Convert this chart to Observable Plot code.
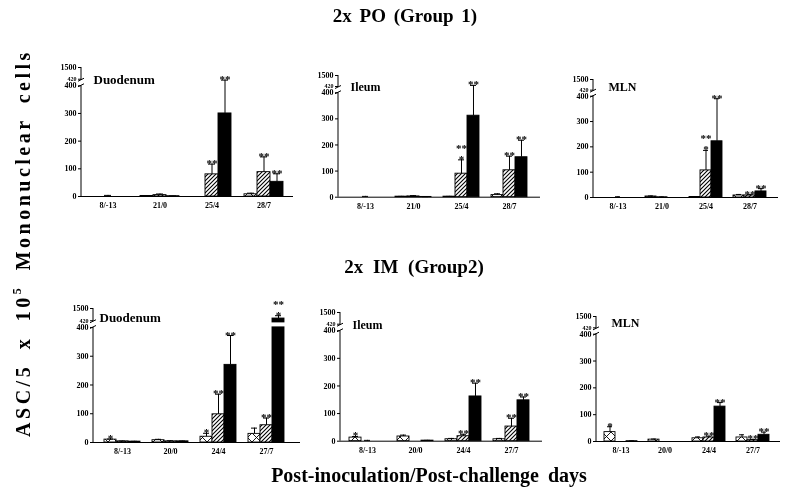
<!DOCTYPE html>
<html><head><meta charset="utf-8">
<script src="https://cdn.jsdelivr.net/npm/d3@7"></script>
<script src="https://cdn.jsdelivr.net/npm/@observablehq/plot@0.6"></script>
<style>
body{margin:0;background:#fff;}
#wrap{position:relative;width:800px;height:495px;overflow:hidden;background:#fff;font-family:"Liberation Serif","Times New Roman",serif;font-weight:bold;color:#000;filter:grayscale(100%);-webkit-font-smoothing:antialiased;}
.abs{position:absolute;white-space:nowrap;line-height:1;}
.panel{position:absolute;}
</style></head><body>
<div id="wrap">
<svg width="0" height="0" style="position:absolute;left:0;top:0">
<defs>
<pattern id="hatch" patternUnits="userSpaceOnUse" width="4" height="4"><rect width="4" height="4" fill="white"/><path d="M-1,1 L1,-1 M0,4 L4,0 M3,5 L5,3" stroke="black" stroke-width="1.1"/></pattern>
<pattern id="cross" patternUnits="userSpaceOnUse" width="9" height="9"><rect width="9" height="9" fill="white"/><path d="M0,0 L9,9 M9,0 L0,9" stroke="black" stroke-width="0.9"/></pattern>
</defs></svg>
<div class="abs" style="left:305px;width:200px;top:6px;text-align:center;font-size:19px;word-spacing:3px">2x PO (Group 1)</div>
<div class="abs" style="left:314px;width:200px;top:257px;text-align:center;font-size:19px;word-spacing:5px">2x IM (Group2)</div>
<div class="abs" style="left:229px;width:400px;top:465px;text-align:center;font-size:20px;word-spacing:4px">Post-inoculation/Post-challenge days</div>
<div class="abs" style="left:22px;top:243px;font-size:20px;letter-spacing:3.5px;word-spacing:6px;transform:translate(-50%,-50%) rotate(-90deg)">ASC/5 x 10<span style="font-size:12px;vertical-align:9px">5</span> Mononuclear cells</div>
</div>
<script>
// ---- data ----
const series = ["white", "hatched", "black"];
const daysPO = ["8/-13", "21/0", "25/4", "28/7"];
const daysIM = ["8/-13", "20/0", "24/4", "27/7"];
const yTicks = [0, 100, 200, 300, 400, 1500];
const yBreakTick = [420];

// values listed day by day: [white, hatched, black] per day
const poDuodenumMean = [0, 0, 0,   2, 5, 1,   0, 80, 300,   8, 88, 53];
const poDuodenumErr  = [0, 4, 0,   3, 9, 2,   0, 117, 430,  12, 143, 82];
const poDuodenumSig  = ["", "", "",  "", "", "",  "", "**", "**",  "", "**", "**"];

const poIleumMean = [0, 0, 0,   2, 3, 1,   2, 90, 312,   8, 103, 153];
const poIleumErr  = [0, 3, 0,   3, 6, 2,   3, 143, 608,  13, 157, 218];
const poIleumSig  = ["", "", "",  "", "", "",  "", "**\n*", "**",  "", "**", "**"];

const poMlnMean = [0, 0, 0,   4, 1, 0,   2, 107, 222,   8, 8, 24];
const poMlnErr  = [0, 3, 0,   6, 2, 0,   3, 186, 390,   12, 11, 35];
const poMlnSig  = ["", "", "",  "", "", "",  "", "**\n*", "**",  "", "**", "**"];

const imDuodenumMean = [10, 4, 3,   8, 4, 4,   20, 98, 270,   30, 60, 680];
const imDuodenumErr  = [12, 5, 4,   11, 6, 5,  32, 168, 372,  50, 85, 913];
const imDuodenumSig  = ["*", "", "",  "", "", "",  "*", "**", "**",  "", "**", "**\n*"];

const imIleumMean = [13, 0, 0,   17, 0, 2,   7, 18, 162,   7, 53, 148];
const imIleumErr  = [17, 3, 0,   22, 0, 3,   10, 25, 210,  10, 83, 160];
const imIleumSig  = ["*", "", "",  "", "", "",  "", "**", "**",  "", "**", "**"];

const imMlnMean = [35, 0, 1,   7, 0, 0,   12, 15, 130,   15, 5, 25];
const imMlnErr  = [55, 0, 2,   9, 0, 0,   17, 20, 145,   25, 8, 35];
const imMlnSig  = ["*", "", "",  "", "", "",  "", "**", "**",  "", "**", "**"];

// ---- broken y axis ----
const BREAK_LO = 400, BREAK_HI = 420, Y_MAX = 1500, COMPRESS = 46 / 1080;
const f = v => v <= BREAK_HI ? v : BREAK_HI + (v - BREAK_HI) * COMPRESS;

const panels = [
  {name: "Duodenum", days: daysPO, mean: poDuodenumMean, err: poDuodenumErr, sig: poDuodenumSig, axisX: 81, right: 293, y0: 196, yTop: 67, labelAt: 420, dx: 12, fs: 13},
  {name: "Ileum", days: daysPO, mean: poIleumMean, err: poIleumErr, sig: poIleumSig, axisX: 338, right: 540, y0: 196.7, yTop: 75, labelAt: 420, dx: 12, fs: 12},
  {name: "MLN", days: daysPO, mean: poMlnMean, err: poMlnErr, sig: poMlnSig, axisX: 593, right: 778, y0: 197, yTop: 79, labelAt: 800, dx: 15, fs: 12},
  {name: "Duodenum", days: daysIM, mean: imDuodenumMean, err: imDuodenumErr, sig: imDuodenumSig, axisX: 93, right: 300, y0: 442, yTop: 308, labelAt: 700, dx: 6, fs: 13},
  {name: "Ileum", days: daysIM, mean: imIleumMean, err: imIleumErr, sig: imIleumSig, axisX: 340, right: 542, y0: 440.7, yTop: 312, labelAt: 420, dx: 12, fs: 12},
  {name: "MLN", days: daysIM, mean: imMlnMean, err: imMlnErr, sig: imMlnSig, axisX: 596, right: 780, y0: 441, yTop: 316, labelAt: 900, dx: 15, fs: 12}
];

const ML = 30, MR = 20, MT = 28, MB = 22;
const wrap = document.getElementById("wrap");

function yAxisLine(index, scales, values, dims) {
  const g = d3.create("svg:g").attr("stroke", "black").attr("fill", "none").attr("stroke-width", 1);
  const x = dims.marginLeft, y = scales.y;
  g.append("line").attr("x1", x).attr("x2", x).attr("y1", y(0)).attr("y2", y(f(BREAK_LO)));
  g.append("line").attr("x1", x).attr("x2", x).attr("y1", y(f(BREAK_HI))).attr("y2", y(f(Y_MAX)));
  [BREAK_LO, BREAK_HI].forEach(v => {
    g.append("line").attr("x1", x - 3).attr("x2", x + 3).attr("y1", y(f(v)) + 1.5).attr("y2", y(f(v)) - 1.5);
  });
  return g.node();
}

panels.forEach(p => {
  const rows = [];
  p.days.forEach((d, i) => series.forEach((s, j) => {
    const k = i * 3 + j;
    rows.push({day: d, series: s, key: i + "|" + j, v: p.mean[k], e: p.err[k], sig: p.sig[k]});
  }));
  const keys = [];
  p.days.forEach((d, i) => { if (i > 0) keys.push("gap" + i); series.forEach((s, j) => keys.push(i + "|" + j)); });
  const ylab = new Map(yTicks.concat(yBreakTick).map(v => [f(v), String(v)]));
  const chart = Plot.plot({
    width: p.right - p.axisX + ML + MR,
    height: p.y0 - p.yTop + MT + MB,
    marginLeft: ML, marginRight: MR, marginTop: MT, marginBottom: MB,
    style: {fontFamily: '"Liberation Serif","Times New Roman",serif', fontWeight: "bold", fontSize: "8px", background: "transparent", overflow: "visible", color: "black"},
    x: {type: "band", domain: keys, paddingInner: 0, paddingOuter: 0.5, align: 0.4},
    y: {domain: [0, f(Y_MAX)]},
    color: {type: "ordinal", domain: series, range: ["url(#cross)", "url(#hatch)", "black"]},
    marks: [
      Plot.barY(rows, {x: "key", y: d => f(d.v), fill: "series", stroke: "black", strokeWidth: 0.9}),
      Plot.barY(rows.filter(d => d.v > BREAK_HI), {x: "key", y1: f(BREAK_LO + 2), y2: f(BREAK_HI - 4), fill: "white", insetLeft: -1, insetRight: -1}),
      Plot.ruleX(rows.filter(d => d.e > d.v), {x: "key", y1: d => f(d.v), y2: d => f(d.e), stroke: "black", strokeWidth: 1}),
      Plot.tickY(rows.filter(d => d.e > d.v), {x: "key", y: d => f(d.e), stroke: "black", strokeWidth: 1, insetLeft: 3, insetRight: 3}),
      Plot.text(rows.filter(d => d.sig), {x: "key", y: d => f(Math.max(d.e, d.v)), text: "sig", lineAnchor: "bottom", dy: 3, fontSize: 11, lineHeight: 1, fill: "black"}),
      Plot.ruleY([0], {stroke: "black", strokeWidth: 1}),
      yAxisLine,
      Plot.axisY(yTicks.map(f), {tickSize: 3, tickPadding: 2, tickFormat: t => ylab.get(t), label: null}),
      Plot.axisY(yBreakTick.map(f), {tickSize: 3, tickPadding: 2, tickFormat: t => ylab.get(t), label: null, fontSize: 6, dy: -1}),
      Plot.axisX(p.days.map((d, i) => i + "|1"), {tickSize: 0, tickPadding: 6, tickFormat: k => p.days[+k.split("|")[0]], label: null}),
      Plot.text([p.name], {frameAnchor: "left", y: f(p.labelAt), dx: p.dx, text: d => d, textAnchor: "start", fontSize: p.fs, fontWeight: "bold", fill: "black"})
    ]
  });
  const holder = document.createElement("div");
  holder.className = "panel";
  holder.style.left = (p.axisX - ML) + "px";
  holder.style.top = (p.yTop - MT) + "px";
  holder.appendChild(chart);
  wrap.appendChild(holder);
});
</script>
</body></html>
